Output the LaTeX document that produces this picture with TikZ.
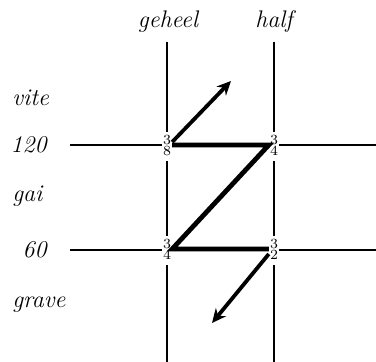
\documentclass[tikz,border=0pt]{standalone}
\usetikzlibrary{arrows.meta}
\tikzset{
	lbl/.style={font=\large\itshape, inner sep=1pt},
	frac/.style={font=\scriptsize, inner sep=0.4pt, fill=white},
	grid/.style={line width=0.7pt},
	route/.style={line width=2.4pt},
	jump/.style={line width=1.9pt, -{Stealth[length=7pt,width=6.5pt]}}
}
\newcommand{\ratio}[2]{\begin{tabular}{@{}c@{}}#1\\[-2.3pt]#2\end{tabular}}
\begin{document}
	\begin{tikzpicture}[x=0.5pt,y=-0.5pt]
		\useasboundingbox (0,0) rectangle (376,362);
		
		% Columns
		\node[lbl] (geheel) at (168,22) {geheel};
		\node[lbl] (half) at (274,22) {half};
		\draw[grid] (167,42) -- (167,362);
		\draw[grid] (274,42) -- (274,362);
		
		% Rows
		\foreach \y in {145,250} {
			\draw[grid] (70,\y) -- (376,\y);
		}
		\node[lbl, anchor=west] (vite) at (10,98) {vite};
		\node[lbl, anchor=east] (t120) at (49,145) {120};
		\node[lbl, anchor=west] (gai) at (10,196) {gai};
		\node[lbl, anchor=east] (t60) at (49,250) {60};
		\node[lbl, anchor=west] (grave) at (10,305) {grave};
		
		% Ratios
		\node[frac] (g120) at (167,147) {\ratio{3}{8}};
		\node[frac] (h120) at (274,147) {\ratio{3}{4}};
		\node[frac] (g60) at (167,251) {\ratio{3}{4}};
		\node[frac] (h60) at (274,251) {\ratio{3}{2}};
		
		% Path
		\coordinate (up) at (231,81);
		\coordinate (down) at (212,323);
		\draw[route, line join=miter] (g120.east |- 0,145) -- (h120.west |- 0,145) -- (g60.east |- 0,249) -- (h60.west |- 0,249);
		\draw[jump] (g120.east |- 0,142) -- (up);
		\draw[jump] (h60.west |- 0,254) -- (down);
	\end{tikzpicture}
\end{document}
